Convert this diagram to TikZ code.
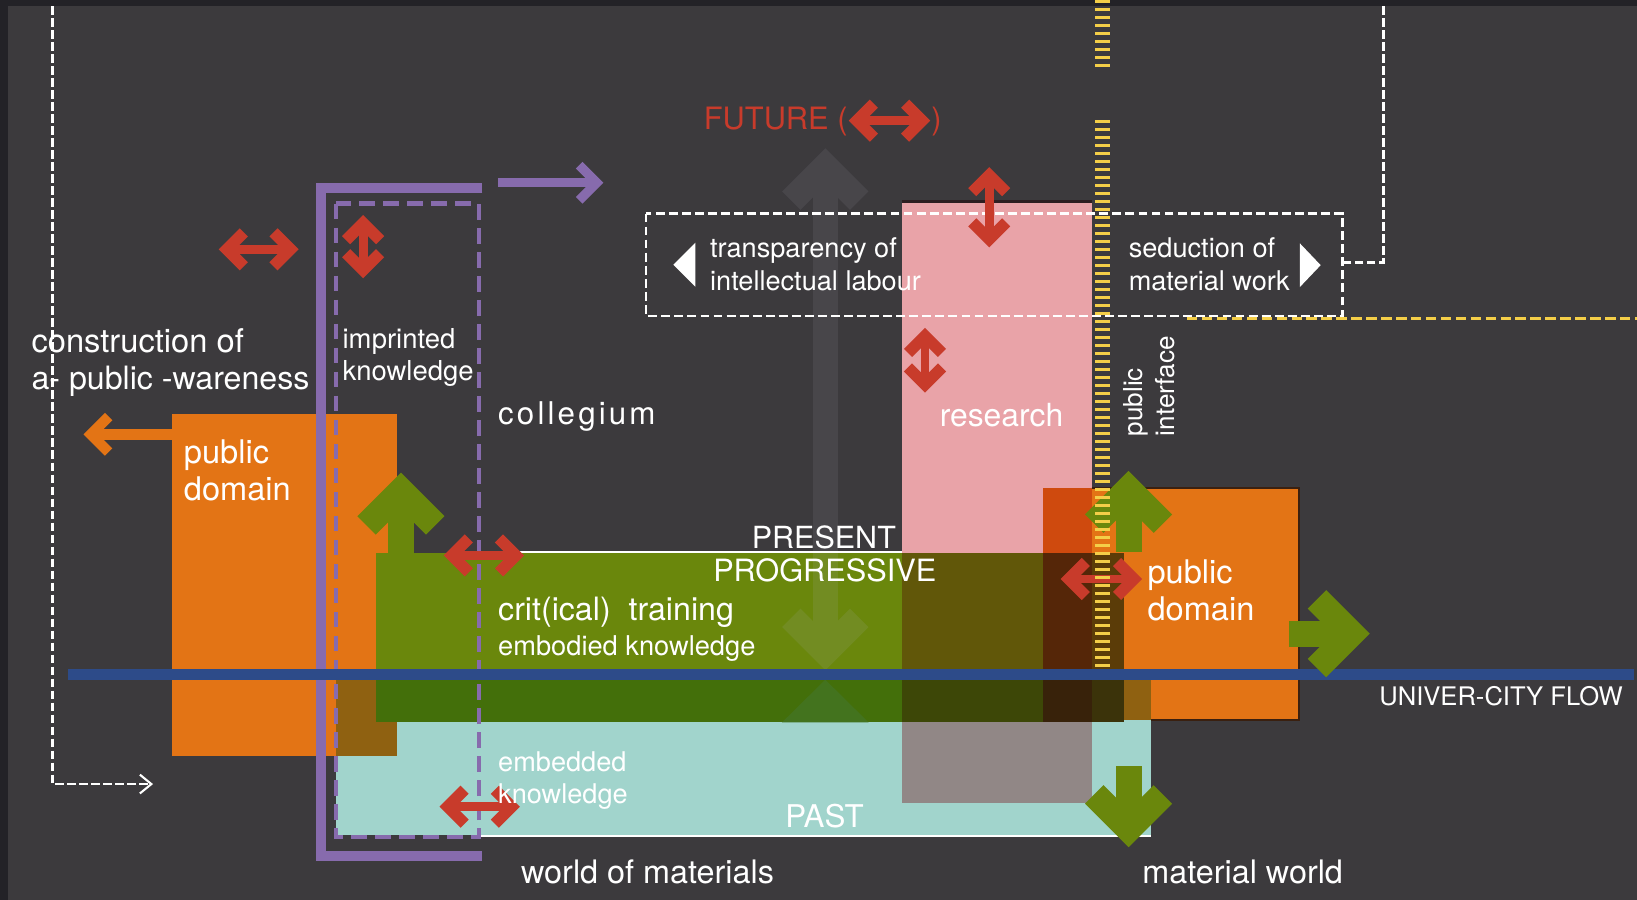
\documentclass[tikz,border=0pt]{standalone}
\usepackage{fontspec}
\setmainfont{TeX Gyre Heros}
\definecolor{bgc}{HTML}{3C3A3D}
\definecolor{framec}{HTML}{232227}
\definecolor{cOrange}{HTML}{E37415}
\definecolor{cPink}{HTML}{E9A3A8}
\definecolor{cTeal}{HTML}{A1D4CC}
\definecolor{cGreen}{HTML}{6A870C}
\definecolor{cGrTeal}{HTML}{436F0A}
\definecolor{cGrPink}{HTML}{615709}
\definecolor{cPinkTeal}{HTML}{918786}
\definecolor{cOrPink}{HTML}{CF4A0E}
\definecolor{cOrTeal}{HTML}{8F6111}
\definecolor{cGrOrPink}{HTML}{552608}
\definecolor{cGrOr}{HTML}{5B3C08}
\definecolor{cGrPinkTeal}{HTML}{3D4707}
\definecolor{cGrOrPinkTeal}{HTML}{38220A}
\definecolor{cGrOrTeal}{HTML}{3B330A}
\definecolor{cGrayArr}{HTML}{48464A}
\definecolor{cGrayGreen}{HTML}{728C22}
\definecolor{cGrayDG}{HTML}{43731E}
\definecolor{cPurple}{HTML}{876BAD}
\definecolor{cBlue}{HTML}{2D4B89}
\definecolor{cYellow}{HTML}{F4CE48}
\definecolor{cRed}{HTML}{C83B2B}
\definecolor{cOrLine}{HTML}{3A2010}
\definecolor{cPinkLine}{HTML}{2E1E20}
\newcommand\fsz[1]{\fontsize{#1}{#1}\selectfont}
% chevron head: #1 colour, #2 #3 tip, #4 angle, #5 stroke width, #6 arm length
\newcommand\chevhead[6]{%
  \begin{scope}[shift={(#2,#3)},rotate=#4]
    \draw[draw=#1,line width=#5pt,line join=miter,miter limit=10,line cap=butt]
      ({-0.7071*#5-0.7071*#6},{0.7071*#6}) -- ({-0.7071*#5},0) -- ({-0.7071*#5-0.7071*#6},{-0.7071*#6});
  \end{scope}}
\newcommand\dblh[3]{%
  \draw[cRed,line width=8.5pt] ({#1+8},#3) -- ({#2-8},#3);
  \chevhead{cRed}{#1}{#3}{180}{11}{23}%
  \chevhead{cRed}{#2}{#3}{0}{11}{23}}
\newcommand\dblv[3]{%
  \draw[cRed,line width=8.5pt] (#1,{#2+8}) -- (#1,{#3-8});
  \chevhead{cRed}{#1}{#2}{90}{11}{23}%
  \chevhead{cRed}{#1}{#3}{-90}{11}{23}}
\tikzset{
  txt/.style={text=white,inner sep=0pt,anchor=base west},
  wdash/.style={draw=white,line width=2.4pt,dash pattern=on 8pt off 3.5pt},
  ladder/.style={draw=cYellow,line width=15pt,dash pattern=on 3.1pt off 4.56pt},
}
\begin{document}
\begin{tikzpicture}[x=1pt,y=-1pt]
\useasboundingbox (0,0) rectangle (1568,862);
\fill[bgc] (0,0) rectangle (1568,862);
\fill[framec] (0,0) rectangle (1568,6);
\fill[framec] (0,0) rectangle (8,862);

% white dashed guide paths
\coordinate (lt) at (50.5,6);
\coordinate (lb) at (50.5,751);
\coordinate (le) at (144,751);
\draw[wdash] (lt) -- (lb) -- (le);
\draw[white,line width=2pt] (134,742) -- (145,751) -- (134,760);
\coordinate (rt) at (1325,6);
\coordinate (rb) at (1325,251.5);
\coordinate (re) at (1286,251.5);
\draw[wdash] (rt) -- (rb) -- (re);

% gray future arrow (upper part)
\fill[cGrayArr] (778.5,158) rectangle (802.5,530);
\chevhead{cGrayArr}{790.5}{142}{90}{25}{46}

% teal (past)
\fill[cTeal] (322,646) rectangle (1102.5,800);
\draw[white,line width=1.5pt] (458,801) -- (1102.5,801);
% pink (research)
\fill[cPink] (863.5,193) rectangle (1045.5,769.5);
\draw[cPinkLine,line width=2pt] (863.5,193) -- (1045.5,193);
\fill[cPinkTeal] (863.5,646) rectangle (1045.5,769.5);
% left orange
\fill[cOrange] (165,397) rectangle (380,724);
\fill[cOrTeal] (322,646) rectangle (380,724);
% right orange
\fill[cOrange] (999.5,467.5) rectangle (1244,690);
\fill[cOrPink] (999.5,467.5) rectangle (1045.5,690);
\fill[cOrTeal] (1045.5,646) rectangle (1102.5,690);
\draw[cOrLine,line width=2pt] (1045.5,467.5) -- (1244,467.5) -- (1244,690) -- (1102.5,690);
% green (training)
\fill[cGreen] (360,530) rectangle (863.5,692);
\fill[cGrPink] (863.5,530) rectangle (999.5,692);
\fill[cGrOrPink] (999.5,530) rectangle (1045.5,692);
\fill[cGrOr] (1045.5,530) rectangle (1076.5,692);
\fill[cGrTeal] (360,646) rectangle (863.5,692);
\fill[cGrPinkTeal] (863.5,646) rectangle (999.5,692);
\fill[cGrOrPinkTeal] (999.5,646) rectangle (1045.5,692);
\fill[cGrOrTeal] (1045.5,646) rectangle (1076.5,692);
\draw[white,line width=1.5pt] (460,528.5) -- (863.5,528.5);
% gray arrow inside green
\fill[cGrayGreen] (778.5,530) rectangle (802.5,626);
\chevhead{cGrayGreen}{790.5}{642}{-90}{25}{46}
\fill[cGrayDG] (790.5,651) -- (749,692) -- (832,692) -- cycle;

% purple collegium
\draw[cPurple,line width=9pt,line join=miter] (462,180) -- (307.5,180) -- (307.5,820) -- (462,820);
\draw[cPurple,line width=4pt,dash pattern=on 15pt off 8pt] (322,195) rectangle (458.5,801.5);
\draw[cPurple,line width=9pt] (477,175) -- (571,175);
\chevhead{cPurple}{578}{175}{0}{9}{23.8}

% univer-city flow
\draw[cBlue,line width=10pt] (65,646) -- (1565,646);

% white dashed box with triangles
\draw[white,line width=2.2pt,dash pattern=on 8.5pt off 4pt] (619,204.5) rectangle (1286,302.5);
\fill[white] (666,232.5) -- (666,274.5) -- (645,253.5) -- cycle;
\fill[white] (1245,233) -- (1245,275) -- (1265,254) -- cycle;
% yellow dashed horizontal
\draw[cYellow,line width=2.6pt,dash pattern=on 10pt off 4.3pt] (1137,305) -- (1568,305);

% orange arrow (left)
\draw[cOrange,line width=10pt] (165,416) -- (88,416);
\chevhead{cOrange}{80}{416}{180}{10}{24}

% green arrows
\draw[cGreen,line width=25pt] (384,530) -- (384,469);
\chevhead{cGreen}{384}{452.7}{90}{25}{46.5}
\draw[cGreen,line width=25pt] (1081,528.5) -- (1081,467);
\chevhead{cGreen}{1081}{451}{90}{25}{46.5}
\draw[cGreen,line width=25pt] (1081,734) -- (1081,795);
\chevhead{cGreen}{1081}{811.5}{-90}{25}{46.5}
\draw[cGreen,line width=25pt] (1235,607) -- (1296,607);
\chevhead{cGreen}{1312}{607}{0}{25}{46.5}

% red double arrows
\dblh{209.5}{286}{238.8}
\dblv{347.8}{206}{266.6}
\dblh{425}{502}{532}
\dblh{421}{498}{772.7}
\dblv{947.5}{160}{237}
\dblv{886}{314}{376}
\dblh{1016}{1094}{554.6}
\dblh{813}{891}{115.6}

% public interface ladder
\draw[ladder] (1056,0) -- (1056,65);
\draw[ladder] (1056,115) -- (1056,643);

% texts
\node[txt,text=cRed,font=\fsz{29.5}] (fut) at (674,124) {FUTURE (};
\node[txt,text=cRed,font=\fsz{29.5}] (futc) at (892,124) {)};
\node[txt,font=\fsz{31.3}] (con1) at (30,337.8) {construction of};
\node[txt,font=\fsz{30.8}] (con2) at (30,372.9) {a- public -wareness};
\node[txt,font=\fsz{26.3}] (imp1) at (328,333.5) {imprinted};
\node[txt,font=\fsz{26.3}] (imp2) at (328,364) {knowledge};
\node[txt,font=\fsz{30}\addfontfeature{LetterSpace=10}] (col) at (477,407) {collegium};
\node[txt,font=\fsz{31.2}] (pd1) at (176,443.7) {public};
\node[txt,font=\fsz{31.2}] (pd2) at (176,479) {domain};
\node[txt,font=\fsz{29.2}] (pres) at (720,525) {PRESENT};
\node[txt,font=\fsz{29.4}] (prog) at (683,557) {PROGRESSIVE};
\node[txt,font=\fsz{30.8}] (crit) at (477,594) {crit(ical)\ \ training};
\node[txt,font=\fsz{26.1}] (emb) at (477,628) {embodied knowledge};
\node[txt,font=\fsz{26}] (emd1) at (477,739) {embedded};
\node[txt,font=\fsz{26}] (emd2) at (477,769.5) {knowledge};
\node[txt,font=\fsz{30}] (past) at (752,793) {PAST};
\node[txt,font=\fsz{31}] (wom) at (499,846) {world of materials};
\node[txt,font=\fsz{31}] (mw) at (1094,846) {material world};
\node[txt,font=\fsz{24.5}] (ucf) at (1321,676) {UNIVER-CITY FLOW};
\node[txt,font=\fsz{30.5}] (res) at (900,408.7) {research};
\node[txt,font=\fsz{25},rotate=90] (pi1) at (1094,418) {public};
\node[txt,font=\fsz{25},rotate=90] (pi2) at (1125,418) {interface};
\node[txt,font=\fsz{31.2}] (rpd1) at (1099,558.6) {public};
\node[txt,font=\fsz{31.2}] (rpd2) at (1099,594.5) {domain};
\node[txt,font=\fsz{26}] (tr1) at (680,247) {transparency of};
\node[txt,font=\fsz{26}] (tr2) at (680,278) {intellectual labour};
\node[txt,font=\fsz{26}] (sd1) at (1081,247) {seduction of};
\node[txt,font=\fsz{26}] (sd2) at (1081,278) {material work};
\end{tikzpicture}
\end{document}
